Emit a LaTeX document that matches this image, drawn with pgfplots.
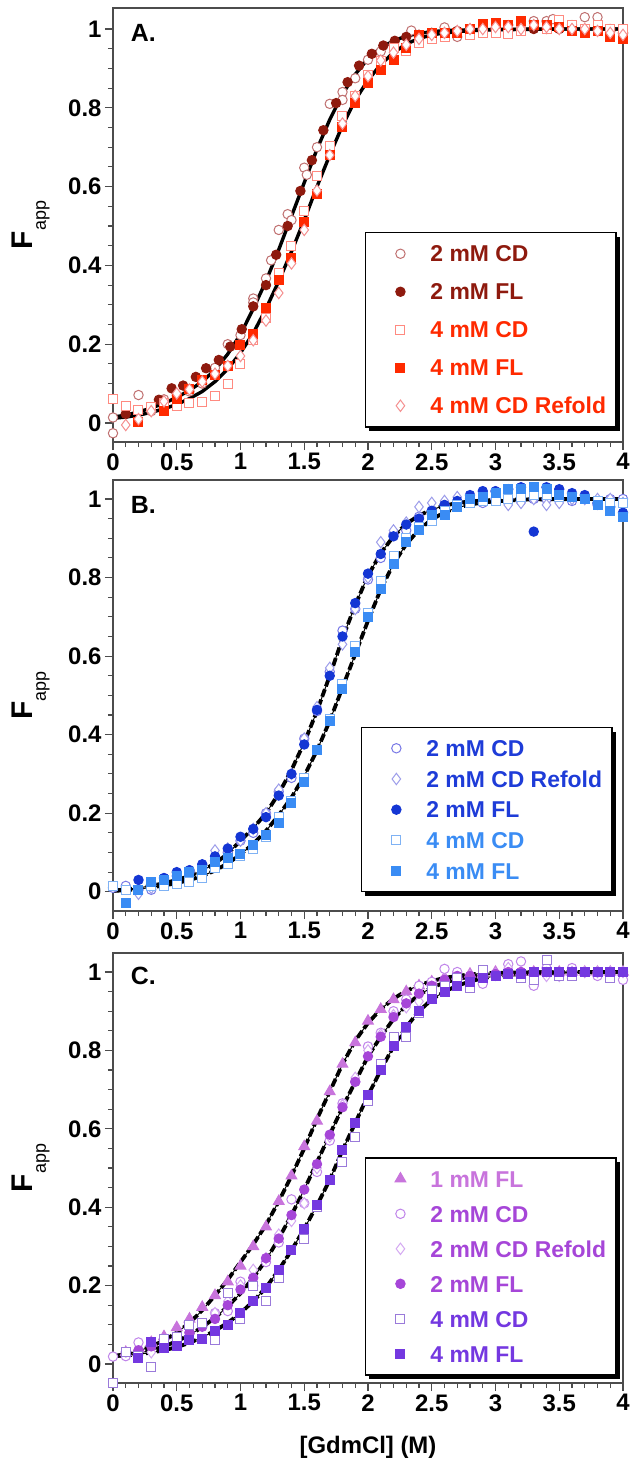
\documentclass[border=0pt]{standalone}
\usepackage{fontspec}
\setmainfont{Liberation Sans}
\usepackage{pgfplots}
\pgfplotsset{compat=1.18}
\usetikzlibrary{shadows}

% panel A (red)
\definecolor{AcdTwo}{HTML}{C07070}
\definecolor{AflTwo}{HTML}{8E1A0E}
\definecolor{AcdFour}{HTML}{FF8A80}
\definecolor{AflFour}{HTML}{FF2A00}
\definecolor{ArefFour}{HTML}{F59090}
% panel B (blue)
\definecolor{BcdTwo}{HTML}{7878E6}
\definecolor{BrefTwo}{HTML}{9C9CEA}
\definecolor{BflTwo}{HTML}{1436D4}
\definecolor{BtxtTwo}{HTML}{1E3CD8}
\definecolor{BcdFour}{HTML}{7FB2F4}
\definecolor{BflFour}{HTML}{3A8CF4}
% panel C (purple)
\definecolor{CflOne}{HTML}{C874DC}
\definecolor{CcdTwo}{HTML}{C084EA}
\definecolor{CrefTwo}{HTML}{D4A8F2}
\definecolor{CflTwo}{HTML}{A646D8}
\definecolor{CcdFour}{HTML}{9A7ADA}
\definecolor{CflFour}{HTML}{7438E0}

\tikzset{plabel/.style={anchor=base west, font=\bfseries\fontsize{25}{25}\selectfont}}

\pgfplotsset{
  panel/.style={
    scale only axis, width=510bp,
    xmin=0, xmax=4,
    xtick={0,0.5,...,4}, xticklabels={0,0.5,1,1.5,2,2.5,3,3.5,4},
    ytick={0,0.2,0.4,0.6,0.8,1}, yticklabels={0,0.2,0.4,0.6,0.8,1},
    minor x tick num=4, minor y tick num=3,
    xtick pos=left, ytick pos=left, tick align=outside,
    major tick length=8bp, minor tick length=5bp,
    axis line style={line width=1.3bp, black!70},
    every tick/.style={line width=1.1bp, black!70},
    tick label style={font=\bfseries\fontsize{24}{24}\selectfont, black},
    clip=false,
    ylabel={\textbf{F}\raisebox{-13bp}{\mdseries\fontsize{18}{18}\selectfont app}},
    ylabel style={at={(axis description cs:-0.157,0.5)}, anchor=base,
      font=\fontsize{30}{30}\selectfont},
    legend cell align=left,
    legend image code/.code={%
      \pgfpathmoveto{\pgfpointorigin}\pgfpathlineto{\pgfpoint{35bp}{0bp}}\pgfusepath{discard}%
      \draw[##1] plot coordinates {(25bp,0bp)};},
    legend style={draw=black, line width=1.5bp, fill=white, inner xsep=10bp,
      column sep=20bp, font=\bfseries\fontsize{23}{23}\selectfont,
      nodes={inner sep=0pt, text height=16.5bp, text depth=0pt},
      drop shadow={shadow xshift=4bp, shadow yshift=-4bp, fill=black, opacity=1}},
  },
  opencirc/.style={only marks, mark=*, mark size=4.7bp, line width=1bp, mark options={draw=#1, fill=white}},
  fillcirc/.style={only marks, mark=*, mark size=4.7bp, line width=1bp, mark options={draw=#1, fill=#1}},
  opensq/.style={only marks, mark=square*, mark size=4.5bp, line width=1bp, mark options={draw=#1, fill=white}},
  fillsq/.style={only marks, mark=square*, mark size=4.5bp, line width=1bp, mark options={draw=#1, fill=#1}},
  opendia/.style={only marks, mark=diamond*, mark size=5.7bp, line width=1bp, mark options={draw=#1, fill=white}},
  filltri/.style={only marks, mark=triangle*, mark size=6.2bp, line width=1bp, mark options={draw=#1, fill=#1}},
  fitsolid/.style={black, line width=3.4bp, no markers, forget plot},
  fitdash/.style={black, line width=3.8bp, no markers, forget plot, dash pattern=on 8bp off 3bp,
    postaction={draw, solid, line width=1bp}},
}

\begin{document}
\begin{tikzpicture}

% ---------------- A ----------------
\begin{axis}[panel, at={(0,0)}, anchor=south west, height=434bp,
  ymin=-0.0482, ymax=1.0533,
  legend style={at={(0.988,0.484)}, anchor=north east, row sep=21.5bp, inner ysep=12.8bp}]
\addplot[fitsolid] coordinates {(0,0.015) (0.1,0.02) (0.2,0.028) (0.3,0.038) (0.4,0.05) (0.5,0.065) (0.6,0.083) (0.7,0.105) (0.8,0.135) (0.9,0.175) (1.0,0.225) (1.1,0.29) (1.2,0.36) (1.3,0.44) (1.4,0.525) (1.5,0.61) (1.6,0.695) (1.7,0.77) (1.8,0.835) (1.9,0.885) (2.0,0.925) (2.1,0.952) (2.2,0.97) (2.3,0.982) (2.4,0.989) (2.5,0.993) (2.6,0.996) (2.8,0.998) (3.0,0.999) (3.5,1.0) (4.0,1.0)};
\addplot[fitsolid] coordinates {(0,0.012) (0.1,0.015) (0.2,0.02) (0.3,0.027) (0.4,0.036) (0.5,0.047) (0.6,0.062) (0.7,0.08) (0.8,0.105) (0.9,0.137) (1.0,0.178) (1.1,0.228) (1.2,0.29) (1.3,0.36) (1.4,0.435) (1.5,0.515) (1.6,0.6) (1.7,0.68) (1.8,0.755) (1.9,0.82) (2.0,0.87) (2.1,0.91) (2.2,0.94) (2.3,0.962) (2.4,0.976) (2.5,0.985) (2.6,0.99) (2.8,0.996) (3.0,0.998) (3.5,1.0) (4.0,1.0)};
\addplot[opencirc=AcdTwo] coordinates {(0,0.014) (0,-0.026) (0.2,0.071) (0.3,0.03) (0.4,0.06) (0.5,0.07) (0.6,0.08) (0.7,0.10) (0.8,0.14) (0.9,0.20) (1.0,0.223) (1.1,0.316) (1.1,0.306) (1.2,0.367) (1.24,0.413) (1.3,0.49) (1.37,0.53) (1.4,0.515) (1.5,0.648) (1.52,0.63) (1.6,0.70) (1.7,0.81) (1.8,0.84) (1.8,0.82) (1.9,0.875) (2.0,0.922) (2.1,0.943) (2.2,0.96) (2.34,0.996) (2.4,0.985) (2.5,0.99) (2.6,1.004) (2.7,0.98) (2.8,1.0) (2.9,1.0) (3.0,1.0) (3.1,1.01) (3.2,1.0) (3.3,1.02) (3.4,1.02) (3.45,1.025) (3.6,1.01) (3.7,1.03) (3.8,1.03) (3.9,1.0) (4.0,0.99)};
\addlegendentry{\textcolor{AflTwo}{2 mM CD}}
\addplot[fillcirc=AflTwo] coordinates {(0.1,0.023) (0.36,0.059) (0.46,0.088) (0.55,0.095) (0.65,0.117) (0.73,0.139) (0.83,0.16) (0.92,0.194) (1.01,0.238) (1.1,0.296) (1.2,0.35) (1.28,0.427) (1.37,0.50) (1.47,0.589) (1.56,0.667) (1.65,0.743) (1.75,0.812) (1.84,0.865) (1.93,0.907) (2.03,0.937) (2.12,0.958) (2.21,0.97) (2.3,0.98) (2.4,0.985) (2.5,0.99) (2.6,0.99) (2.7,0.995) (2.8,1.0) (2.9,1.0) (3.0,1.0) (3.1,1.0) (3.2,1.0) (3.3,1.0) (3.4,1.0) (3.5,1.0) (3.6,1.0) (3.7,0.995) (3.8,1.0) (3.9,0.995) (4.0,0.99)};
\addlegendentry{\textcolor{AflTwo}{2 mM FL}}
\addplot[opensq=AcdFour] coordinates {(0,0.06) (0.1,0.044) (0.2,0.033) (0.3,0.04) (0.4,0.05) (0.5,0.042) (0.6,0.05) (0.7,0.054) (0.8,0.068) (0.9,0.10) (1.0,0.151) (1.1,0.211) (1.2,0.267) (1.3,0.38) (1.4,0.449) (1.5,0.538) (1.6,0.628) (1.7,0.703) (1.8,0.78) (1.9,0.83) (2.0,0.883) (2.1,0.918) (2.2,0.952) (2.3,0.943) (2.4,0.964) (2.5,0.975) (2.6,0.979) (2.7,0.99) (2.8,0.986) (2.9,0.99) (3.0,0.991) (3.1,0.988) (3.2,0.995) (3.3,1.01) (3.4,1.0) (3.5,1.024) (3.6,1.01) (3.7,1.0) (3.8,1.01) (3.9,1.0) (4.0,1.0)};
\addlegendentry{\textcolor{AflFour}{4 mM CD}}
\addplot[fillsq=AflFour] coordinates {(0.2,0.002) (0.4,0.03) (0.5,0.061) (0.6,0.086) (0.7,0.11) (0.8,0.123) (0.9,0.145) (1.0,0.198) (1.1,0.226) (1.2,0.292) (1.3,0.362) (1.4,0.418) (1.5,0.51) (1.6,0.58) (1.7,0.68) (1.8,0.75) (1.9,0.811) (2.0,0.863) (2.1,0.897) (2.2,0.922) (2.3,0.953) (2.4,0.985) (2.5,0.99) (2.6,0.99) (2.7,0.99) (2.8,1.0) (2.9,1.013) (3.0,1.015) (3.1,1.01) (3.2,1.02) (3.3,1.01) (3.4,1.01) (3.5,1.005) (3.6,0.995) (3.7,0.99) (3.8,0.995) (3.9,0.98) (4.0,0.975)};
\addlegendentry{\textcolor{AflFour}{4 mM FL}}
\addplot[opendia=ArefFour] coordinates {(0.1,-0.005) (0.2,0.01) (0.3,0.03) (0.4,0.055) (0.5,0.075) (0.6,0.085) (0.7,0.105) (0.8,0.125) (0.9,0.145) (1.0,0.17) (1.1,0.21) (1.2,0.26) (1.3,0.33) (1.4,0.405) (1.5,0.49) (1.6,0.59) (1.7,0.68) (1.8,0.76) (1.9,0.83) (2.0,0.88) (2.1,0.92) (2.2,0.94) (2.3,0.96) (2.4,0.975) (2.5,0.985) (2.6,0.99) (2.7,0.995) (2.8,1.0) (2.9,1.0) (3.0,1.005) (3.1,1.005) (3.2,1.0) (3.3,1.01) (3.4,1.005) (3.5,1.0) (3.6,1.0) (3.7,1.0) (3.8,0.995) (3.9,0.99) (4.0,0.985)};
\addlegendentry{\textcolor{AflFour}{4 mM CD Refold}}
\node[plabel] at (rel axis cs:0.028,0.922) {A.};
\end{axis}

% ---------------- B ----------------
\begin{axis}[panel, at={(0,-469bp)}, anchor=south west, height=431bp,
  ymin=-0.049, ymax=1.0484,
  legend style={at={(0.980,0.427)}, anchor=north east, row sep=14.2bp, inner ysep=12.3bp}]
\addplot[fitdash] coordinates {(0,0.003) (0.1,0.006) (0.2,0.01) (0.3,0.015) (0.4,0.022) (0.5,0.03) (0.6,0.04) (0.7,0.054) (0.8,0.072) (0.9,0.097) (1.0,0.13) (1.1,0.162) (1.2,0.2) (1.3,0.25) (1.4,0.31) (1.5,0.38) (1.6,0.46) (1.7,0.55) (1.8,0.645) (1.9,0.73) (2.0,0.805) (2.1,0.862) (2.2,0.905) (2.3,0.937) (2.4,0.958) (2.5,0.973) (2.6,0.983) (2.7,0.99) (2.8,0.994) (3.0,0.998) (3.5,1.0) (4.0,1.0)};
\addplot[fitdash] coordinates {(0,0.002) (0.1,0.004) (0.2,0.007) (0.3,0.011) (0.4,0.016) (0.5,0.022) (0.6,0.03) (0.7,0.04) (0.8,0.054) (0.9,0.072) (1.0,0.095) (1.1,0.122) (1.2,0.155) (1.3,0.195) (1.4,0.24) (1.5,0.295) (1.6,0.36) (1.7,0.435) (1.8,0.52) (1.9,0.605) (2.0,0.69) (2.1,0.77) (2.2,0.835) (2.3,0.885) (2.4,0.922) (2.5,0.948) (2.6,0.966) (2.7,0.978) (2.8,0.986) (2.9,0.991) (3.0,0.994) (3.2,0.998) (3.6,1.0) (4.0,1.0)};
\addplot[opencirc=BcdTwo] coordinates {(0,0.01) (0.1,0.015) (0.2,0.005) (0.3,0.005) (0.4,0.02) (0.5,0.04) (0.6,0.05) (0.7,0.06) (0.8,0.08) (0.9,0.10) (1.0,0.13) (1.1,0.15) (1.2,0.20) (1.3,0.255) (1.4,0.29) (1.5,0.39) (1.6,0.46) (1.7,0.56) (1.8,0.665) (1.9,0.72) (2.0,0.795) (2.1,0.85) (2.2,0.91) (2.3,0.92) (2.4,0.955) (2.5,0.97) (2.6,0.985) (2.7,0.99) (2.8,1.0) (2.9,0.99) (3.0,1.0) (3.1,1.0) (3.2,0.995) (3.3,1.0) (3.4,1.0) (3.5,1.0) (3.6,0.995) (3.7,1.0) (3.8,0.985) (3.9,1.0) (4.0,1.0)};
\addlegendentry{\textcolor{BtxtTwo}{2 mM CD}}
\addplot[opendia=BrefTwo] coordinates {(0.2,-0.005) (0.3,0.01) (0.4,0.025) (0.5,0.04) (0.6,0.05) (0.7,0.065) (0.8,0.105) (0.9,0.11) (1.0,0.13) (1.1,0.16) (1.2,0.20) (1.3,0.26) (1.4,0.30) (1.5,0.39) (1.6,0.47) (1.7,0.57) (1.8,0.63) (1.9,0.72) (2.0,0.80) (2.1,0.89) (2.2,0.92) (2.3,0.94) (2.4,0.98) (2.5,0.99) (2.6,0.995) (2.7,1.005) (2.8,1.0) (2.9,1.0) (3.0,1.0) (3.1,0.985) (3.2,0.99) (3.3,1.0) (3.4,0.985) (3.5,0.99) (3.6,1.0) (3.7,1.0) (3.8,1.0) (3.9,1.0) (4.0,0.99)};
\addlegendentry{\textcolor{BtxtTwo}{2 mM CD Refold}}
\addplot[fillcirc=BflTwo] coordinates {(0.2,0.03) (0.3,0.02) (0.4,0.035) (0.5,0.05) (0.6,0.055) (0.7,0.07) (0.8,0.09) (0.9,0.11) (1.0,0.14) (1.1,0.16) (1.2,0.19) (1.3,0.245) (1.4,0.30) (1.5,0.375) (1.6,0.463) (1.7,0.55) (1.8,0.65) (1.9,0.735) (2.0,0.81) (2.1,0.86) (2.2,0.905) (2.3,0.935) (2.4,0.95) (2.5,0.97) (2.6,0.985) (2.7,0.995) (2.8,1.01) (2.9,1.02) (3.0,1.02) (3.1,1.025) (3.2,1.03) (3.3,0.917) (3.4,1.03) (3.5,1.025) (3.6,1.015) (3.7,1.01) (3.8,0.99) (3.9,0.98) (4.0,0.965)};
\addlegendentry{\textcolor{BtxtTwo}{2 mM FL}}
\addplot[opensq=BcdFour] coordinates {(0,0.015) (0.1,0.005) (0.2,0.005) (0.3,0.015) (0.4,0.015) (0.5,0.02) (0.6,0.025) (0.7,0.035) (0.8,0.06) (0.9,0.07) (1.0,0.09) (1.1,0.11) (1.2,0.14) (1.3,0.19) (1.4,0.23) (1.5,0.29) (1.6,0.36) (1.7,0.44) (1.8,0.53) (1.9,0.625) (2.0,0.71) (2.1,0.79) (2.2,0.855) (2.3,0.90) (2.4,0.93) (2.5,0.945) (2.6,0.97) (2.7,0.985) (2.8,0.99) (2.9,0.995) (3.0,0.995) (3.1,1.0) (3.2,1.005) (3.3,1.01) (3.4,1.01) (3.5,1.005) (3.6,1.005) (3.7,1.0) (3.8,0.995) (3.9,0.99) (4.0,0.99)};
\addlegendentry{\textcolor{BflFour}{4 mM CD}}
\addplot[fillsq=BflFour] coordinates {(0.1,-0.028) (0.2,0.005) (0.3,0.025) (0.4,0.03) (0.5,0.04) (0.6,0.05) (0.7,0.055) (0.8,0.075) (0.9,0.085) (1.0,0.095) (1.1,0.12) (1.2,0.145) (1.3,0.175) (1.4,0.225) (1.5,0.28) (1.6,0.36) (1.7,0.435) (1.8,0.515) (1.9,0.61) (2.0,0.70) (2.1,0.77) (2.2,0.835) (2.3,0.89) (2.4,0.92) (2.5,0.96) (2.6,0.96) (2.7,0.98) (2.8,1.0) (2.9,1.005) (3.0,1.015) (3.1,1.025) (3.2,1.025) (3.3,1.03) (3.4,1.025) (3.5,1.01) (3.6,1.005) (3.7,1.0) (3.8,0.985) (3.9,0.97) (4.0,0.955)};
\addlegendentry{\textcolor{BflFour}{4 mM FL}}
\node[plabel] at (rel axis cs:0.028,0.923) {B.};
\end{axis}

% ---------------- C ----------------
\begin{axis}[panel, at={(0,-941bp)}, anchor=south west, height=430bp,
  ymin=-0.0485, ymax=1.0485,
  xlabel={{}[GdmCl] (M)},
  xlabel style={at={(axis description cs:0.5,-0.163)}, anchor=base,
    font=\bfseries\fontsize{24}{24}\selectfont},
  legend style={at={(0.988,0.5256)}, anchor=north east, row sep=18.5bp, inner ysep=12.8bp}]
\addplot[fitdash] coordinates {(0,0.02) (0.1,0.025) (0.2,0.033) (0.3,0.045) (0.4,0.06) (0.5,0.08) (0.6,0.105) (0.7,0.137) (0.8,0.175) (0.9,0.215) (1.0,0.26) (1.1,0.305) (1.2,0.355) (1.3,0.415) (1.4,0.48) (1.5,0.55) (1.6,0.625) (1.7,0.695) (1.8,0.765) (1.9,0.825) (2.0,0.87) (2.1,0.905) (2.2,0.932) (2.3,0.952) (2.4,0.966) (2.5,0.977) (2.6,0.985) (2.7,0.99) (2.8,0.994) (3.0,0.998) (3.5,1.0) (4.0,1.0)};
\addplot[fitdash] coordinates {(0,0.02) (0.1,0.023) (0.2,0.028) (0.3,0.035) (0.4,0.045) (0.5,0.058) (0.6,0.074) (0.7,0.094) (0.8,0.118) (0.9,0.147) (1.0,0.18) (1.1,0.22) (1.2,0.265) (1.3,0.32) (1.4,0.38) (1.5,0.445) (1.6,0.515) (1.7,0.585) (1.8,0.655) (1.9,0.72) (2.0,0.785) (2.1,0.835) (2.2,0.88) (2.3,0.915) (2.4,0.942) (2.5,0.96) (2.6,0.973) (2.7,0.982) (2.8,0.988) (3.0,0.995) (3.3,0.999) (4.0,1.0)};
\addplot[fitdash] coordinates {(0,0.02) (0.1,0.022) (0.2,0.025) (0.3,0.029) (0.4,0.035) (0.5,0.043) (0.6,0.054) (0.7,0.068) (0.8,0.085) (0.9,0.105) (1.0,0.13) (1.1,0.16) (1.2,0.195) (1.3,0.24) (1.4,0.29) (1.5,0.345) (1.6,0.405) (1.7,0.47) (1.8,0.545) (1.9,0.615) (2.0,0.685) (2.1,0.75) (2.2,0.81) (2.3,0.86) (2.4,0.9) (2.5,0.93) (2.6,0.95) (2.7,0.965) (2.8,0.976) (2.9,0.984) (3.0,0.99) (3.3,0.997) (4.0,1.0)};
\addplot[filltri=CflOne] coordinates {(0.1,0.03) (0.2,0.04) (0.3,0.055) (0.4,0.07) (0.5,0.093) (0.6,0.115) (0.7,0.145) (0.8,0.175) (0.9,0.21) (1.0,0.25) (1.1,0.30) (1.2,0.35) (1.3,0.415) (1.4,0.48) (1.5,0.555) (1.6,0.62) (1.7,0.695) (1.8,0.765) (1.9,0.82) (2.0,0.875) (2.1,0.905) (2.2,0.93) (2.3,0.95) (2.4,0.965) (2.5,0.975) (2.6,0.985) (2.7,0.99) (2.8,0.995) (2.9,0.995) (3.0,1.0) (3.1,1.0) (3.2,1.0) (3.3,1.0) (3.4,1.0) (3.5,1.0) (3.6,1.0) (3.7,1.0) (3.8,1.0) (3.9,1.0) (4.0,1.0)};
\addlegendentry{\textcolor{CflOne}{1 mM FL}}
\addplot[opencirc=CcdTwo] coordinates {(0,0.019) (0.1,0.02) (0.2,0.055) (0.3,0.05) (0.4,0.055) (0.5,0.07) (0.6,0.08) (0.7,0.10) (0.8,0.13) (0.9,0.135) (1.0,0.21) (1.1,0.20) (1.2,0.26) (1.3,0.31) (1.4,0.42) (1.5,0.41) (1.6,0.49) (1.7,0.57) (1.8,0.665) (1.9,0.72) (2.0,0.81) (2.1,0.845) (2.2,0.90) (2.3,0.93) (2.4,0.965) (2.5,0.975) (2.6,1.008) (2.7,1.0) (2.8,0.985) (2.9,0.97) (3.0,0.99) (3.1,1.02) (3.2,1.027) (3.3,0.965) (3.4,1.01) (3.5,0.99) (3.6,1.01) (3.7,1.0) (3.8,0.99) (3.9,1.0) (4.0,0.98)};
\addlegendentry{\textcolor{CflTwo}{2 mM CD}}
\addplot[opendia=CrefTwo] coordinates {(0.3,0.03) (0.4,0.045) (0.5,0.06) (0.6,0.075) (0.7,0.10) (0.8,0.13) (0.9,0.16) (1.0,0.20) (1.1,0.24) (1.2,0.27) (1.3,0.33) (1.4,0.365) (1.5,0.41) (1.6,0.50) (1.7,0.58) (1.8,0.66) (1.9,0.73) (2.0,0.80) (2.1,0.84) (2.2,0.89) (2.3,0.91) (2.4,0.925) (2.5,0.96) (2.6,0.98) (2.7,0.985) (2.8,0.99) (2.9,0.99) (3.0,0.995) (3.1,1.01) (3.2,1.0) (3.3,0.995) (3.4,0.99) (3.5,0.99) (3.6,1.0) (3.7,1.0) (3.8,1.0) (3.9,1.0) (4.0,1.0)};
\addlegendentry{\textcolor{CflTwo}{2 mM CD Refold}}
\addplot[fillcirc=CflTwo] coordinates {(0.1,0.03) (0.2,0.035) (0.3,0.045) (0.4,0.05) (0.5,0.065) (0.6,0.08) (0.7,0.095) (0.8,0.115) (0.9,0.15) (1.0,0.19) (1.1,0.22) (1.2,0.27) (1.3,0.32) (1.4,0.38) (1.5,0.445) (1.6,0.51) (1.7,0.585) (1.8,0.655) (1.9,0.72) (2.0,0.785) (2.1,0.835) (2.2,0.885) (2.3,0.92) (2.4,0.945) (2.5,0.965) (2.6,0.98) (2.7,0.99) (2.8,0.99) (2.9,0.99) (3.0,0.995) (3.1,1.0) (3.2,1.0) (3.3,1.0) (3.4,1.0) (3.5,1.0) (3.6,1.0) (3.7,1.0) (3.8,1.0) (3.9,1.0) (4.0,1.0)};
\addlegendentry{\textcolor{CflTwo}{2 mM FL}}
\addplot[opensq=CcdFour] coordinates {(0,-0.049) (0.1,0.03) (0.2,0.02) (0.3,-0.008) (0.4,0.065) (0.5,0.07) (0.6,0.10) (0.7,0.105) (0.8,0.061) (0.9,0.182) (1.0,0.115) (1.1,0.20) (1.2,0.16) (1.3,0.22) (1.4,0.29) (1.5,0.32) (1.6,0.40) (1.7,0.47) (1.8,0.515) (1.9,0.58) (2.0,0.67) (2.1,0.765) (2.2,0.835) (2.3,0.835) (2.4,0.895) (2.5,0.955) (2.6,0.965) (2.7,0.985) (2.8,0.96) (2.9,1.005) (3.0,0.99) (3.1,0.995) (3.2,0.985) (3.3,0.98) (3.4,1.03) (3.5,0.99) (3.6,0.99) (3.7,1.0) (3.8,1.0) (3.9,0.985) (4.0,1.0)};
\addlegendentry{\textcolor{CflFour}{4 mM CD}}
\addplot[fillsq=CflFour] coordinates {(0.2,0.015) (0.3,0.055) (0.4,0.04) (0.5,0.045) (0.6,0.06) (0.7,0.065) (0.8,0.085) (0.9,0.10) (1.0,0.13) (1.1,0.16) (1.2,0.195) (1.3,0.24) (1.4,0.29) (1.5,0.345) (1.6,0.405) (1.7,0.47) (1.8,0.545) (1.9,0.615) (2.0,0.685) (2.1,0.75) (2.2,0.81) (2.3,0.86) (2.4,0.90) (2.5,0.93) (2.6,0.95) (2.7,0.965) (2.8,0.975) (2.9,0.985) (3.0,0.99) (3.1,0.995) (3.2,0.995) (3.3,1.0) (3.4,1.0) (3.5,1.0) (3.6,1.0) (3.7,1.0) (3.8,1.0) (3.9,1.0) (4.0,1.0)};
\addlegendentry{\textcolor{CflFour}{4 mM FL}}
\node[plabel] at (rel axis cs:0.028,0.926) {C.};
\end{axis}

\pgfresetboundingbox
\path[use as bounding box] (-113bp,-1018bp) rectangle (518bp,442bp);
\end{tikzpicture}
\end{document}
